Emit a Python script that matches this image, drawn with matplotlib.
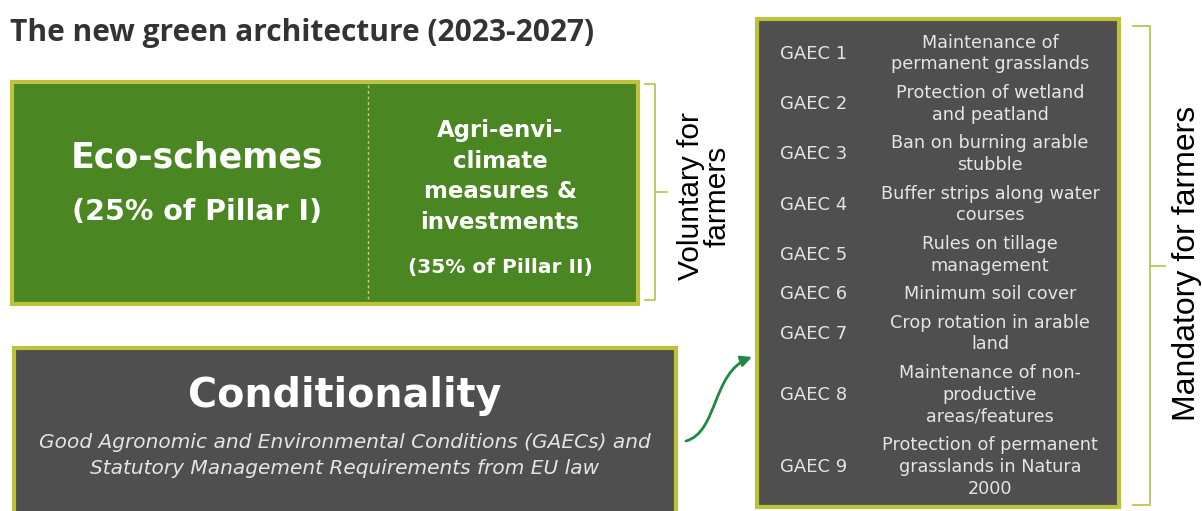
import matplotlib
matplotlib.use("Agg")
import matplotlib.pyplot as plt
from matplotlib.patches import Rectangle, FancyArrowPatch
from matplotlib.path import Path

## texts
title = "The new green architecture (2023-2027)"
eco_title = "Eco-schemes"
eco_sub = "(25% of Pillar I)"
agri_lines = ["Agri-envi-", "climate", "measures &", "investments"]
agri_sub = "(35% of Pillar II)"
cond_title = "Conditionality"
cond_lines = ["Good Agronomic and Environmental Conditions (GAECs) and",
              "Statutory Management Requirements from EU law"]
voluntary_label = "Voluntary for\nfarmers"
mandatory_label = "Mandatory for farmers"

gaec_labels = ["GAEC 1", "GAEC 2", "GAEC 3", "GAEC 4", "GAEC 5",
               "GAEC 6", "GAEC 7", "GAEC 8", "GAEC 9"]
gaec_desc = [
    ["Maintenance of", "permanent grasslands"],
    ["Protection of wetland", "and peatland"],
    ["Ban on burning arable", "stubble"],
    ["Buffer strips along water", "courses"],
    ["Rules on tillage", "management"],
    ["Minimum soil cover"],
    ["Crop rotation in arable", "land"],
    ["Maintenance of non-", "productive", "areas/features"],
    ["Protection of permanent", "grasslands in Natura", "2000"],
]

## colours
GREEN = "#4a8622"
GREY = "#4f4f4f"
BORDER = "#bcc23c"
BRACKET = "#b9bf4a"
ARROW = "#1f8a45"
LIGHT = "#e4e4e4"


def bracket(ax, x0, x1, y0, y1, ymid, xtick):
    ax.plot([x0, x1, x1, x0], [y0, y0, y1, y1], color=BRACKET, lw=1.2)
    ax.plot([x1, xtick], [ymid, ymid], color=BRACKET, lw=1.2)


def main():
    fig = plt.figure(figsize=(12.02, 5.11), dpi=100, facecolor="w")
    ax = fig.add_axes([0, 0, 1, 1])
    ax.set_xlim(0, 1202)
    ax.set_ylim(511, 0)
    ax.axis("off")

    ## title
    ax.text(10, 33, title, fontsize=21.5, fontweight="bold", family="Open Sans",
            color="#333333", ha="left", va="center")

    ## green box
    ax.add_patch(Rectangle((12, 82), 626, 222, facecolor=GREEN, edgecolor=BORDER, lw=3))
    ax.plot([368, 368], [85, 301], color="#c8d08a", lw=1, dashes=(2, 2))
    ax.text(197, 157, eco_title, fontsize=25, fontweight="bold", color="white",
            ha="center", va="center")
    ax.text(197, 212, eco_sub, fontsize=20.5, fontweight="bold", color="white",
            ha="center", va="center")
    for i, line in enumerate(agri_lines):
        ax.text(500, 131 + i * 30.5, line, fontsize=16.5, fontweight="bold",
                color="white", ha="center", va="center")
    ax.text(500, 267, agri_sub, fontsize=14.5, fontweight="bold", color="white",
            ha="center", va="center")

    bracket(ax, 645, 655, 84, 300, 192, 667)
    ax.text(704, 196, voluntary_label, fontsize=21.5, family="Liberation Sans",
            rotation=90, ha="center", va="center", ma="center", linespacing=0.95)

    ## conditionality box
    ax.add_patch(Rectangle((14, 348), 662, 170, facecolor=GREY, edgecolor=BORDER, lw=3))
    ax.text(345, 396, cond_title, fontsize=28.5, fontweight="bold", color="white",
            ha="center", va="center")
    for i, line in enumerate(cond_lines):
        ax.text(345, 443 + i * 25, line, fontsize=14.5, style="italic",
                color=LIGHT, ha="center", va="center")

    ## arrow
    verts = [(686, 441), (718, 432), (712, 372), (752, 357)]
    codes = [Path.MOVETO, Path.CURVE4, Path.CURVE4, Path.CURVE4]
    arrow = FancyArrowPatch(path=Path(verts, codes), arrowstyle="-|>",
                            mutation_scale=16, color=ARROW, lw=2)
    ax.add_patch(arrow)

    ## GAEC box
    ax.add_patch(Rectangle((757, 19), 362, 488, facecolor=GREY, edgecolor=BORDER, lw=3))
    line_h = 21.5
    row_unit = 21.9
    pad = 6.5
    y = 28.5
    for label, desc in zip(gaec_labels, gaec_desc):
        h = len(desc) * row_unit + pad
        yc = y + h / 2
        ax.text(814, yc, label, fontsize=13, color=LIGHT, ha="center", va="center")
        for j, line in enumerate(desc):
            ly = yc + (j - (len(desc) - 1) / 2) * line_h
            ax.text(990, ly, line, fontsize=12.7, color=LIGHT, ha="center", va="center")
        y += h

    bracket(ax, 1133, 1150, 26, 505, 266, 1165)
    ax.text(1187, 263, mandatory_label, fontsize=23, family="Liberation Sans",
            rotation=90, ha="center", va="center")

    fig.savefig("out.png", dpi=100, facecolor="w")
    plt.close(fig)


if __name__ == "__main__":
    main()
